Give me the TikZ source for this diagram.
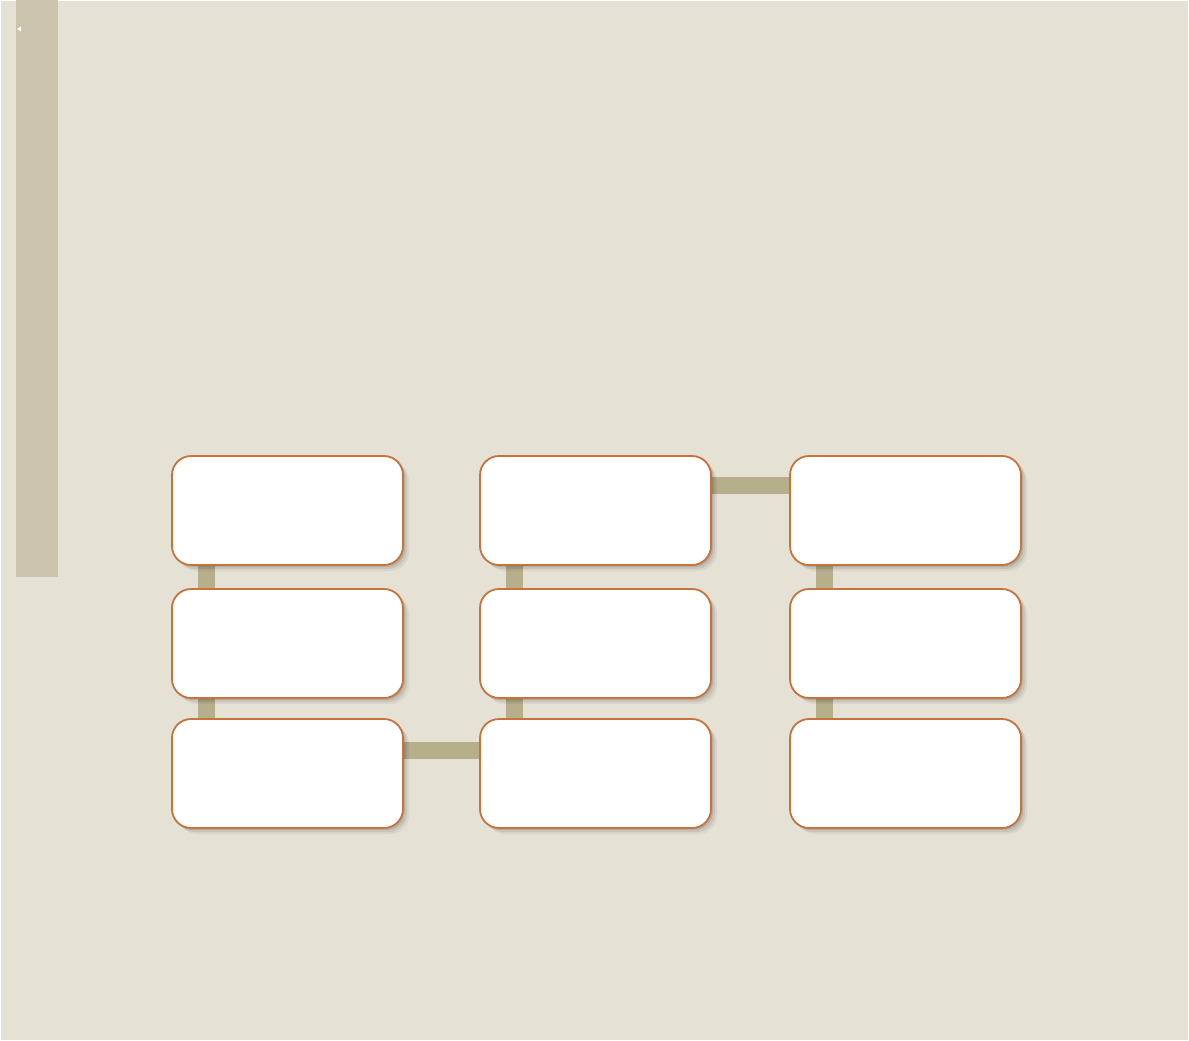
\documentclass[tikz,border=0pt]{standalone}
\usepackage{tikz}
\usetikzlibrary{shadows}
\definecolor{pagecol}{HTML}{E5E1D5}
\definecolor{barcol}{HTML}{CBC3AB}
\definecolor{linkcol}{HTML}{B7AE8B}
\definecolor{edgecol}{HTML}{C8733A}
\pgfdeclarelayer{back}
\pgfdeclarelayer{links}
\pgfsetlayers{back,links,main}
\tikzset{
  card/.style={draw=edgecol,line width=1.8bp,fill=white,rounded corners=19bp,
    minimum width=231bp,minimum height=109bp,inner sep=0pt,
    drop shadow={shadow xshift=2bp,shadow yshift=-2bp,opacity=.10,fill=black},
    drop shadow={shadow xshift=4bp,shadow yshift=-4bp,opacity=.08,fill=black},
    drop shadow={shadow xshift=6bp,shadow yshift=-6bp,opacity=.05,fill=black}},
  link/.style={linkcol,line width=17bp},
}
\begin{document}
\begin{tikzpicture}[x=1bp,y=-1bp]
%%
\useasboundingbox (0,0) rectangle (1189,1041);
\begin{pgfonlayer}{back}
  \fill[white] (0,0) rectangle (1189,1041);
  \fill[pagecol] (1,1) rectangle (1188,1040);
  \fill[barcol] (16,0) rectangle (58,577);
  \fill[white] (17,29) -- (21,26.5) -- (21,31.5) -- cycle;
\end{pgfonlayer}
%% cards
  \node (c11) at (287.5,510.5) [card] {};
  \node (c12) at (595.5,510.5) [card] {};
  \node (c13) at (905.5,510.5) [card] {};
  \node (c21) at (287.5,643.5) [card] {};
  \node (c22) at (595.5,643.5) [card] {};
  \node (c23) at (905.5,643.5) [card] {};
  \node (c31) at (287.5,773.5) [card] {};
  \node (c32) at (595.5,773.5) [card] {};
  \node (c33) at (905.5,773.5) [card] {};
%% links
\begin{pgfonlayer}{links}
  \foreach \col in {1,2,3} {
    \draw [link] ([xshift=35bp]c1\col.south west) -- ([xshift=35bp]c2\col.north west);
    \draw [link] ([xshift=35bp]c2\col.south west) -- ([xshift=35bp]c3\col.north west);
  }
  \draw [link] ([yshift=-30bp]c12.north east) -- ([yshift=-30bp]c13.north west);
  \draw [link] ([yshift=-32bp]c31.north east) -- ([yshift=-32bp]c32.north west);
\end{pgfonlayer}
%
\end{tikzpicture}
\end{document}
